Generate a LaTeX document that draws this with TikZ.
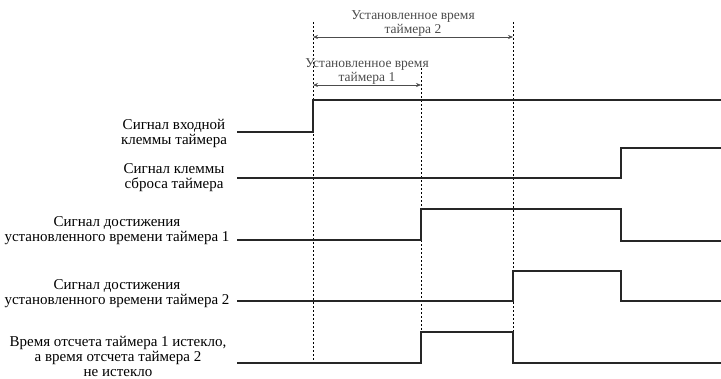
\documentclass[tikz,border=0pt]{standalone}
\usepackage{fontspec}
\setmainfont{Liberation Serif}
\usetikzlibrary{arrows.meta}

\begin{document}
\begin{tikzpicture}[x=1pt, y=-1pt,
    every node/.style={font=\fontsize{15}{15}\selectfont, inner sep=0pt, align=center},
    spanlabel/.style={font=\fontsize{13.5}{14}\selectfont},
    signal/.style={line width=1.1pt, black!85},
    marker/.style={dashed, dash pattern=on 2pt off 2pt, line width=0.6pt, black},
    span/.style={{Stealth[length=5pt,width=4pt]}-{Stealth[length=5pt,width=4pt]}, line width=0.6pt, black!70}]
\useasboundingbox (0,0) rectangle (721,378);

% --- TIME MARKERS (dashed) ---
\draw[marker] (313,22) -- (313,365);
\draw[marker] (421,68) -- (421,332);
\draw[marker] (513,22) -- (513,332);

% --- SET TIME SPANS ---
\coordinate (s2a) at (313,37);
\coordinate (s2b) at (513,37);
\coordinate (s1a) at (313,85);
\coordinate (s1b) at (421,85);
\draw[span] (s2a) -- (s2b) node[midway, above=0pt, spanlabel] (span2) {Установленное время\\таймера 2};
\draw[span] (s1a) -- (s1b) node[midway, above=0pt, spanlabel] (span1) {Установленное время\\таймера 1};

% --- SIGNAL LABELS ---
\node (lblIn)  at (174,133) {Сигнал входной\\клеммы таймера};
\node (lblRst) at (174,178) {Сигнал клеммы\\сброса таймера};
\node (lblT1)  at (117,231) {Сигнал достижения\\установленного времени таймера 1};
\node (lblT2)  at (117,294) {Сигнал достижения\\установленного времени таймера 2};
\node (lblRun) at (118,356) {Время отсчета таймера 1 истекло,\\а время отсчета таймера 2\\не истекло};

% --- WAVEFORMS ---
\draw[signal] (237,132) -- (313,132) -- (313,100) -- (721,100);
\draw[signal] (237,178) -- (621,178) -- (621,148) -- (721,148);
\draw[signal] (237,240) -- (421,240) -- (421,209) -- (621,209) -- (621,241) -- (721,241);
\draw[signal] (237,301) -- (513,301) -- (513,271) -- (621,271) -- (621,301) -- (721,301);
\draw[signal] (237,363) -- (421,363) -- (421,332) -- (513,332) -- (513,363) -- (721,363);

\end{tikzpicture}
\end{document}
